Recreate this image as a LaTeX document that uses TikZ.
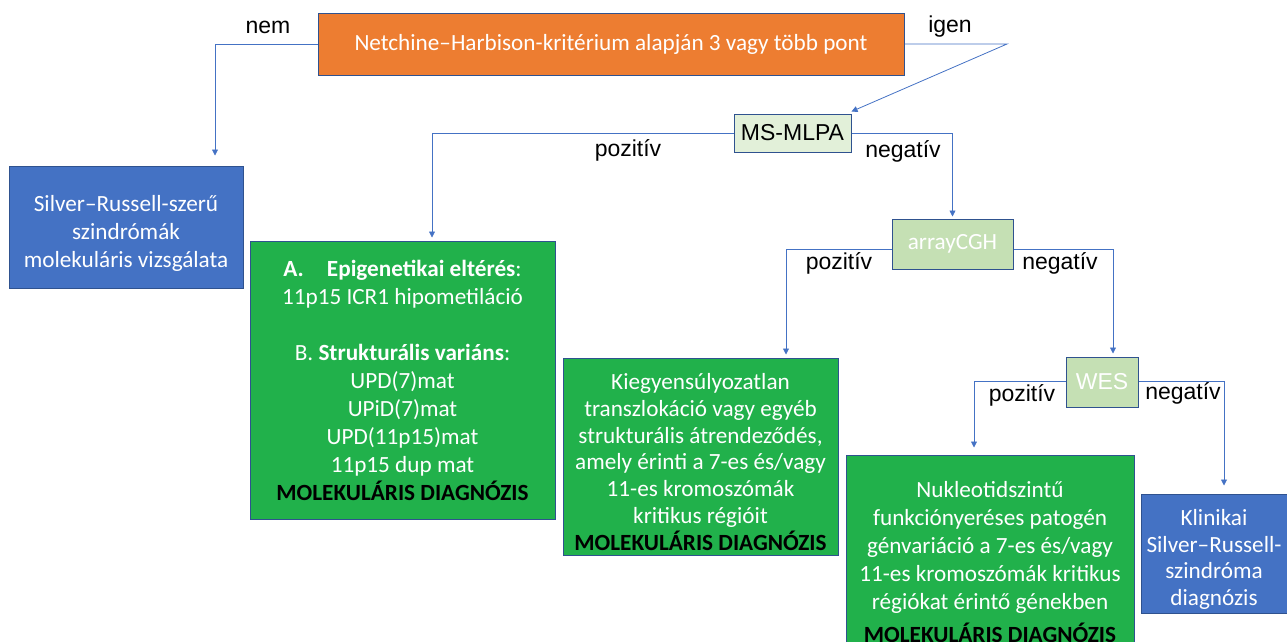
\documentclass[tikz,border=0pt]{standalone}
\usepackage{fontspec}
\setmainfont{Carlito}
\newfontfamily\arialf{Liberation Sans}
\usepackage{xcolor}
\usetikzlibrary{positioning, arrows.meta}
\definecolor{boxOrange}{HTML}{ED7D31}
\definecolor{boxBlue}{HTML}{4472C4}
\definecolor{boxGreen}{HTML}{21B14B}
\definecolor{paleGreen}{HTML}{C5E0B4}
\definecolor{lightGreen}{HTML}{E2F0D9}
\definecolor{edgeBlue}{HTML}{2F528F}
\definecolor{lineBlue}{HTML}{4472C4}
\newcommand{\topstrut}[1]{\rule{0pt}{#1}}

\begin{document}
\begin{tikzpicture}[x=1pt, y=-1pt,
    font=\fontsize{23.2}{28}\selectfont,
    box/.style={draw=edgeBlue, line width=1pt, align=center, inner sep=0pt, text=white},
    testbox/.style={box, fill=paleGreen},
    tight/.style={font=\fontsize{23.2}{26.8}\selectfont},
    lbl/.style={font=\arialf\fontsize{23}{27}\selectfont, inner sep=0pt},
    conn/.style={-{Triangle[length=6pt, width=6pt]}, line width=0.8pt, lineBlue}]
    \useasboundingbox (0,0) rectangle (1287,641);
    % --- boxes ---
    \node[box, fill=boxOrange, minimum width=586pt, minimum height=62pt] (nh) at (611,44)
      {Netchine--Harbison-kritérium alapján 3 vagy több pont};
    \node[box, fill=boxBlue, minimum width=234pt, minimum height=122pt] (sr) at (126,227)
      {\topstrut{28pt}Silver--Russell-szerű\\szindrómák\\molekuláris vizsgálata};
    \node[box, fill=lightGreen, text=black, font=\arialf\fontsize{23}{27}\selectfont,
      minimum width=117pt, minimum height=38pt] (ms) at (792.5,133) {MS-MLPA};
    \node[box, fill=boxGreen, minimum width=305pt, minimum height=278pt] (ga) at (402.5,380)
      {\textbf{A.}\hspace{1em}\textbf{Epigenetikai eltérés}:\\
       11p15 ICR1 hipometiláció\\[28pt]
       B. \textbf{Strukturális variáns}:\\
       UPD(7)mat\\UPiD(7)mat\\UPD(11p15)mat\\11p15 dup mat\\
       \textcolor{black}{\textbf{MOLEKULÁRIS DIAGNÓZIS}}};
    \node[testbox, minimum width=121pt, minimum height=50pt] (cgh) at (952.5,244) {arrayCGH};
    \node[box, tight, fill=boxGreen, minimum width=275pt, minimum height=197pt] (g2) at (700.5,456.5)
      {\topstrut{27pt}Kiegyensúlyozatlan\\transzlokáció vagy egyéb\\strukturális átrendeződés,\\
       amely érinti a 7-es és/vagy\\11-es kromoszómák\\kritikus régióit\\
       \textcolor{black}{\textbf{MOLEKULÁRIS DIAGNÓZIS}}};
    \node[testbox, font=\arialf\fontsize{23}{27}\selectfont,
      minimum width=72pt, minimum height=50pt] (wes) at (1102,382) {WES};
    \node[box, fill=boxGreen, minimum width=288pt, minimum height=215pt] (g3) at (990,562.5)
      {Nukleotidszintű\\funkciónyeréses patogén\\génvariáció a 7-es és/vagy\\
       11-es kromoszómák kritikus\\régiókat érintő génekben\\[5pt]
       \textcolor{black}{\textbf{MOLEKULÁRIS DIAGNÓZIS}}};
    \node[box, tight, fill=boxBlue, minimum width=146pt, minimum height=119pt] (kl) at (1214,553.5)
      {\topstrut{28pt}Klinikai\\Silver--Russell-\\szindróma\\diagnózis};
    % --- connectors ---
    \coordinate (igbend) at (1007,44);
    \draw[conn] (nh.west) -| ([xshift=89pt, yshift=10pt]sr.north);
    \draw[conn] (nh.east) -- (igbend) -- ([yshift=2pt]ms.north east);
    \draw[conn] (ms.west) -| ([xshift=29.5pt, yshift=3pt]ga.north);
    \draw[conn] (ms.east) -| ([yshift=2pt]cgh.north);
    \draw[conn] ([yshift=-5pt]cgh.west) -| ([xshift=85.5pt, yshift=3pt]g2.north);
    \draw[conn] ([yshift=-5pt]cgh.east) -| ([xshift=11pt, yshift=3pt]wes.north);
    \draw[conn] ([yshift=1pt]wes.west) -| ([xshift=-16pt, yshift=7pt]g3.north);
    \draw[conn] ([yshift=1pt]wes.east) -| ([xshift=10pt, yshift=8pt]kl.north);
    % --- branch labels ---
    \node[lbl] (nem) at (268,27) {nem};
    \node[lbl] (igen) at (950,27) {igen};
    \node[lbl] (mspos) at (628,150) {pozitív};
    \node[lbl] (msneg) at (903,151) {negatív};
    \node[lbl] (cghpos) at (839,263) {pozitív};
    \node[lbl] (cghneg) at (1060,263) {negatív};
    \node[lbl] (wespos) at (1022,395) {pozitív};
    \node[lbl] (wesneg) at (1183,393) {negatív};
\end{tikzpicture}
\end{document}
